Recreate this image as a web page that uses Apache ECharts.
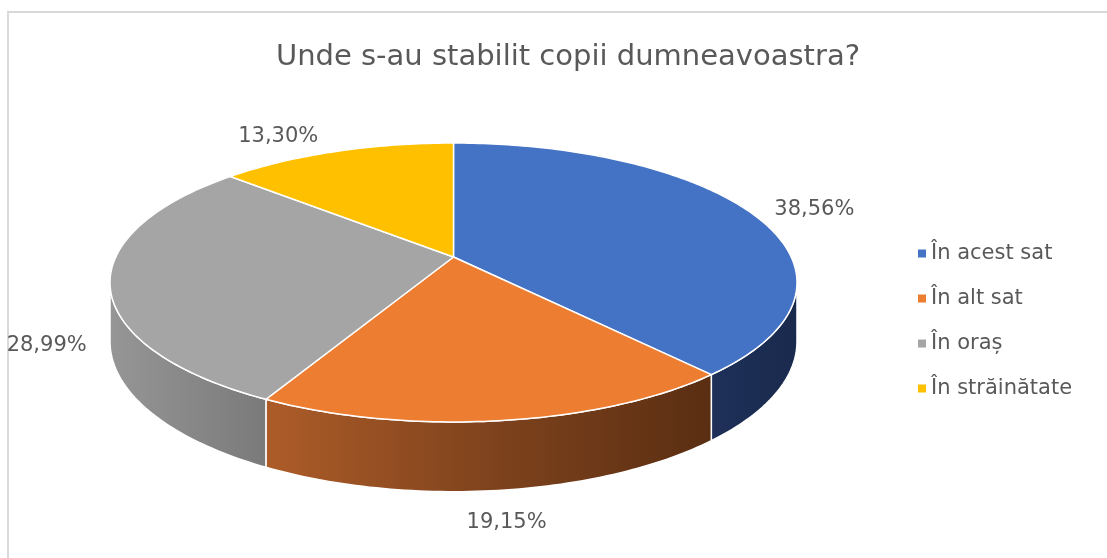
<!DOCTYPE html>
<html lang="ro">
<head>
    <meta charset="UTF-8">
    <title>Unde s-au stabilit copii dumneavoastra?</title>
    <script src="https://cdn.jsdelivr.net/npm/echarts@6.0.0/dist/echarts.min.js"></script>
    <style>
        * {
            margin: 0;
            padding: 0;
            box-sizing: border-box;
        }

        html, body {
            width: 1107px;
            height: 558px;
            overflow: hidden;
            background: #fff;
        }

        body {
            position: relative;
        }

        .frame {
            position: absolute;
            left: 7px;
            top: 11px;
            width: 1400px;
            height: 800px;
            border: 2px solid #d9d9d9;
        }

        #chart {
            position: absolute;
            left: 0;
            top: 0;
            width: 1107px;
            height: 558px;
        }
    </style>
</head>
<body>
    <div class="frame"></div>
    <div id="chart"></div>

    <script>
        const categories = ['În acest sat', 'În alt sat', 'În oraș', 'În străinătate'];
        const shares = [38.56, 19.15, 28.99, 13.30];

        const topColors = ['#4472c4', '#ed7d31', '#a5a5a5', '#ffc000'];
        const wallColors = [
            ['#1e3059', '#1a2a4d'],
            ['#ad5c28', '#7f431d', '#5a2e12'],
            ['#969696', '#7a7a7a'],
            ['#bf9000', '#bf9000']
        ];

        // fake 3D: tilted disc with a bit of perspective
        const CX = 453.5, CY = 257;
        const RX = 337.7, RY = 134.8;
        const K = 0.1827;
        const H = 57;
        const SIL = Math.acos(-K) * 180 / Math.PI; // silhouette angle
        const FONT = 'DejaVu Sans';

        const total = shares.reduce((a, b) => a + b, 0);

        function proj(deg, r, drop) {
            const t = deg * Math.PI / 180;
            const s = Math.sin(t), c = Math.cos(t);
            const p = 1 / (1 + K * r * c);
            return [CX + RX * r * s * p, CY - RY * r * c * p + drop * p];
        }

        function arc(a0, a1, drop) {
            const pts = [];
            const n = Math.max(2, Math.ceil(Math.abs(a1 - a0) / 1));
            for (let k = 0; k <= n; k++) {
                pts.push(proj(a0 + (a1 - a0) * k / n, 1, drop));
            }
            return pts;
        }

        function renderSlice(params, api) {
            const i = params.seriesIndex;
            let before = 0;
            for (let j = 0; j < i; j++) before += shares[j];
            const a0 = before / total * 360;
            const a1 = (before + shares[i]) / total * 360;

            const children = [];

            // outer wall, only the part facing us
            const w0 = Math.max(a0, SIL), w1 = Math.min(a1, 360 - SIL);
            if (w0 < w1) {
                const pts = arc(w0, w1, 0).concat(arc(w1, w0, H));
                const stops = wallColors[i].map((c, k, arr) => ({
                    offset: k / (arr.length - 1), color: c
                }));
                children.push({
                    type: 'polygon',
                    shape: { points: pts },
                    style: {
                        fill: new echarts.graphic.LinearGradient(0, 0, 1, 0, stops),
                        stroke: '#fff',
                        lineWidth: 1.5
                    },
                    z2: 1
                });
            }

            // top face
            children.push({
                type: 'polygon',
                shape: { points: [proj(0, 0, 0)].concat(arc(a0, a1, 0)) },
                style: { fill: topColors[i], stroke: '#fff', lineWidth: 1.5 },
                z2: 10
            });

            // data label, pushed out from the rim (bottom rim for front slices)
            const mid = (a0 + a1) / 2;
            const t = mid * Math.PI / 180;
            const front = Math.cos(t) < 0;
            const anchor = proj(mid, 1, front ? H : 0);
            const dx = anchor[0] - CX, dy = anchor[1] - CY;
            const len = Math.sqrt(dx * dx + dy * dy);
            const u = Math.sin(t);
            let align = 'center', vAlign = 'middle';
            if (u > 0.35) align = 'left';
            else if (u < -0.35) align = 'right';
            else vAlign = front ? 'top' : 'bottom';
            children.push({
                type: 'text',
                x: anchor[0] + 24 * dx / len,
                y: anchor[1] + 22 * dy / len,
                style: {
                    text: shares[i].toFixed(2).replace('.', ',') + '%',
                    fill: '#595959',
                    fontSize: 21,
                    fontFamily: FONT,
                    align: align,
                    verticalAlign: vAlign
                },
                z2: 20
            });

            return { type: 'group', children: children };
        }

        const chart = echarts.init(document.getElementById('chart'));

        chart.setOption({
            animation: false,
            title: {
                text: 'Unde s-au stabilit copii dumneavoastra?',
                left: 563,
                textAlign: 'center',
                top: 38,
                textStyle: {
                    color: '#595959',
                    fontSize: 29,
                    fontWeight: 'normal',
                    fontFamily: FONT
                }
            },
            legend: {
                orient: 'vertical',
                left: 913,
                top: 238,
                itemWidth: 8,
                itemHeight: 8,
                itemGap: 24,
                icon: 'rect',
                data: categories,
                selectedMode: false,
                textStyle: {
                    color: '#595959',
                    fontSize: 21,
                    lineHeight: 21,
                    fontFamily: FONT
                },
                itemStyle: { borderWidth: 0 }
            },
            series: categories.map((name, i) => ({
                type: 'custom',
                name: name,
                coordinateSystem: 'none',
                silent: true,
                itemStyle: { color: topColors[i] },
                renderItem: renderSlice,
                data: [[shares[i]]]
            }))
        });
    </script>
</body>
</html>
